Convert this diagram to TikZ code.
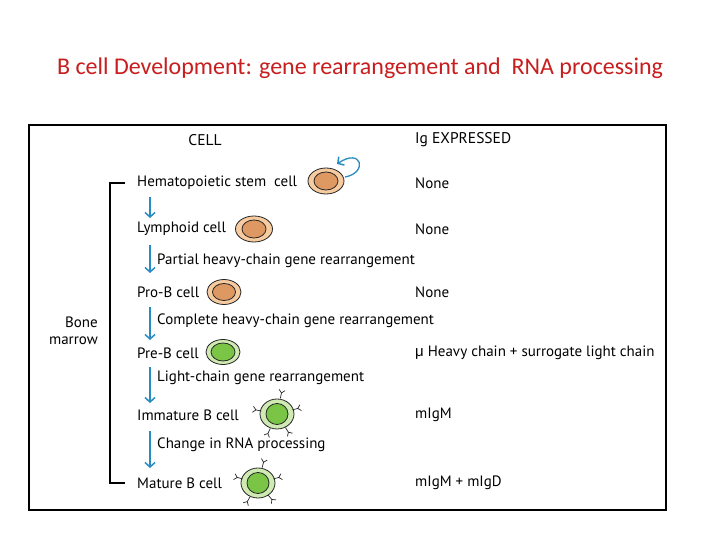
\documentclass[tikz,border=0pt]{standalone}
\usepackage{fontspec}
\setmainfont{PT Sans}
\newfontfamily\titlefont{Carlito}
\newfontfamily\greekfont{Liberation Sans}
\usetikzlibrary{arrows.meta,calc}
\definecolor{titlered}{RGB}{200,30,30}
\definecolor{arrowblue}{RGB}{40,140,195}
\definecolor{tanout}{RGB}{247,203,160}
\definecolor{tannuc}{RGB}{222,152,98}
\definecolor{grnout}{RGB}{208,234,180}
\definecolor{grnnuc}{RGB}{122,196,70}
\tikzset{
  lbl/.style={anchor=west, font=\fontsize{15}{17}\selectfont, inner sep=0pt},
  hdr/.style={font=\fontsize{15.5}{18}\selectfont, inner sep=0pt},
  flow/.style={arrowblue, line width=1.5pt, -{Straight Barb[length=4.5pt,width=10pt,line width=1.5pt]}},
  cellout/.style={draw=black!85, line width=0.8pt},
  recep/.pic={\draw[black!85, line width=0.7pt] (0,0)--(5.5,0) (5.5,0)--(8.5,-3) (5.5,0)--(8.5,3);}
}
\begin{document}
\begin{tikzpicture}[x=1pt,y=-1pt]
\useasboundingbox (0,0) rectangle (720,540);
\fill[white] (0,0) rectangle (720,540);
% title
\node[inner sep=0pt, text=titlered, font=\titlefont\fontsize{24}{28}\selectfont] (title) at (360,68) {B cell Development: gene rearrangement and\ \ RNA processing};
% frame
\draw[line width=2pt] (29,125) rectangle (666,510);
% headers
\node[hdr] (hcell) at (205,140) {CELL};
\node[hdr, anchor=west] (hig) at (415,140) {Ig EXPRESSED};
% cell labels
\node[lbl] (hsc) at (137,183) {Hematopoietic stem\ \ cell};
\node[lbl] (lym) at (137,229) {Lymphoid cell};
\node[lbl] (prob) at (137,292) {Pro-B cell};
\node[lbl] (preb) at (137,353) {Pre-B cell};
\node[lbl] (imm) at (137,415) {Immature B cell};
\node[lbl] (mat) at (137,483) {Mature B cell};
% Ig column
\node[lbl] (ig1) at (415,183) {None};
\node[lbl] (ig2) at (415,229) {None};
\node[lbl] (ig3) at (415,292) {None};
\node[lbl] (ig4) at (415,353) {{\greekfont μ} Heavy chain + surrogate light chain};
\node[lbl] (ig5) at (415,415) {mIgM};
\node[lbl] (ig6) at (415,483) {mIgM + mIgD};
% step labels
\node[lbl] (s1) at (157,261) {Partial heavy-chain gene rearrangement};
\node[lbl] (s2) at (157,321) {Complete heavy-chain gene rearrangement};
\node[lbl] (s3) at (157,378) {Light-chain gene rearrangement};
\node[lbl] (s4) at (157,445) {Change in RNA processing};
% bone marrow
\node[lbl, anchor=east, align=right] (bm) at (98,331) {Bone\\marrow};
% bracket
\coordinate (bt) at (125,183);
\coordinate (bb) at (125,483);
\draw[line width=1.5pt] (bt) -- ++(-15,0) |- (bb);
% flow arrows
\draw[flow] ($(hsc.west)+(13,14)$) -- ($(lym.west)+(13,-11)$);
\draw[flow] ($(lym.west)+(13,16)$) -- ($(prob.west)+(13,-19)$);
\draw[flow] ($(prob.west)+(13,15)$) -- ($(preb.west)+(13,-13)$);
\draw[flow] ($(preb.west)+(13,14)$) -- ($(imm.west)+(13,-12)$);
\draw[flow] ($(imm.west)+(13,16)$) -- ($(mat.west)+(13,-15)$);
% cells: tan
\coordinate (c1) at (326,181);
\coordinate (c2) at (254,229);
\coordinate (c3) at (224,292);
\filldraw[cellout, fill=tanout] (c1) ellipse (18 and 13);
\filldraw[cellout, fill=tannuc] (c1) ellipse (12 and 9);
\filldraw[cellout, fill=tanout] (c2) ellipse (18.5 and 13);
\filldraw[cellout, fill=tannuc] (c2) ellipse (12 and 9);
\filldraw[cellout, fill=tanout] (c3) ellipse (17 and 12.5);
\filldraw[cellout, fill=tannuc] (c3) ellipse (11.5 and 8.5);
% self-renewal arrow
\draw[flow, line width=1.3pt] ($(c1)+(19,-4)$) .. controls ($(c1)+(42,-8)$) and ($(c1)+(36,-34)$) .. ($(c1)+(11,-17)$);
% cells: green
\coordinate (c4) at (223,352);
\coordinate (c5) at (277,414);
\coordinate (c6) at (258,483);
\filldraw[cellout, fill=grnout] (c4) ellipse (17 and 12.5);
\filldraw[cellout, fill=grnnuc] (c4) ellipse (12 and 9);
\filldraw[cellout, fill=grnout] (c5) ellipse (17 and 15);
\filldraw[cellout, fill=grnnuc] (c5) ellipse (11 and 10.5);
\foreach \a in {-78,-15,58,115,191} \pic[rotate=-\a] at ($(c5)+(\a:16)$) {recep};
\filldraw[cellout, fill=grnout] (c6) ellipse (17 and 15);
\filldraw[cellout, fill=grnnuc] (c6) ellipse (11 and 10.5);
\foreach \a in {-75,-15,50,120,195} \pic[rotate=-\a] at ($(c6)+(\a:16)$) {recep};
\end{tikzpicture}
\end{document}
